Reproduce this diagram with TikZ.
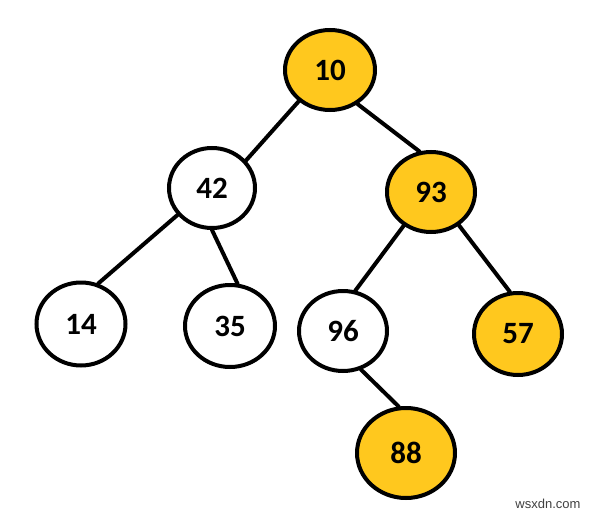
\documentclass[tikz,border=0pt]{standalone}
\usepackage{fontspec}
\setmainfont{Carlito}
\newfontfamily\wmfont{Liberation Sans}
\usetikzlibrary{shapes.geometric}
\definecolor{gold}{HTML}{FFC81E}
\tikzset{
  tnode/.style={ellipse, draw=black, line width=4pt, inner sep=0pt,
    minimum width=#1, font=\fontsize{31}{33}\selectfont\bfseries, text=black},
  tnode/.default=88pt,
  hot/.style={fill=gold},
  cold/.style={fill=white},
  edge/.style={line width=4pt, line cap=round}
}
\begin{document}
\begin{tikzpicture}[x=1pt,y=-1pt]
\useasboundingbox (0,0) rectangle (591,516);
\node[tnode=90pt, minimum height=80pt, hot]  (n10) at (330,70)  {10};
\node[tnode=86pt, minimum height=80pt, cold] (n42) at (212,188) {42};
\node[tnode=88pt, minimum height=80pt, hot]  (n93) at (431,192) {93};
\node[tnode=89pt, minimum height=83pt, cold] (n14) at (81,324)  {14};
\node[tnode=90pt, minimum height=82pt, cold] (n35) at (230,326) {35};
\node[tnode=88pt, minimum height=80pt, cold] (n96) at (343,331) {96};
\node[tnode=88pt, minimum height=82pt, hot]  (n57) at (518,334) {57};
\node[tnode=98pt, minimum height=90pt, hot]  (n88) at (406,453) {88};
\draw[edge] (n10.225) -- (n42.39);
\draw[edge] (n10.309) -- (n93.106);
\draw[edge] (n42.218) -- (n14.67);
\draw[edge] (n42.270) -- (n35.80);
\draw[edge] (n93.231) -- (n96.73);
\draw[edge] (n93.310) -- (n57.101);
\draw[edge] (n96.295) -- (n88.99);
\node[font=\wmfont\fontsize{13}{14}\selectfont, text=black!75, anchor=center] (wm) at (548,504) {wsxdn.com};
\end{tikzpicture}
\end{document}
